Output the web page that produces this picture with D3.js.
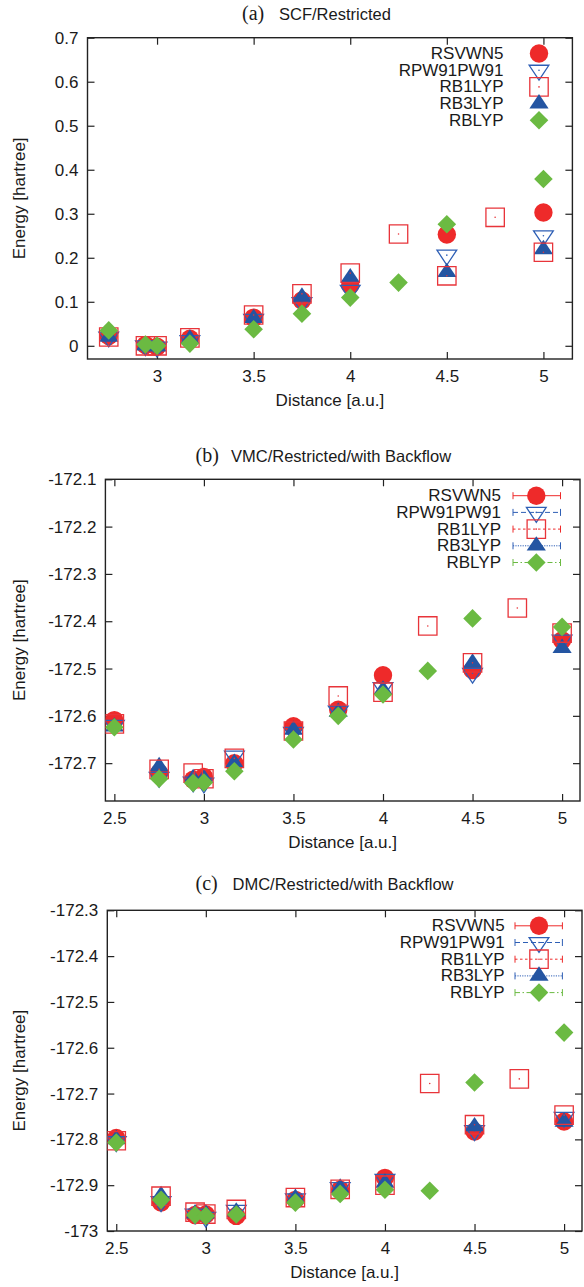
<!DOCTYPE html>
<html><head><meta charset="utf-8">
<script src="https://cdn.jsdelivr.net/npm/d3@7"></script>
<style>body{margin:0;background:#fff} svg{display:block}</style>
</head><body><svg id="c" width="584" height="1287"></svg>
<script>
// ---------------- DATA ----------------
const distances = [2.5, 2.75, 2.94, 3.0, 3.17, 3.5, 3.75, 4.0, 4.25, 4.5, 4.75, 5.0];
const seriesNames = ["RSVWN5", "RPW91PW91", "RB1LYP", "RB3LYP", "RBLYP"];

// (a) SCF/Restricted  [hartree]
const scfRSVWN5    = [null, 0.022, 0.002, -0.002, 0.016, 0.064, 0.103, 0.1375, null, 0.253, null, 0.303];
const scfRPW91PW91 = [null, 0.020, 0.000, -0.003, 0.012, 0.060, 0.098, 0.126, null, 0.206, null, 0.250];
const scfRB1LYP    = [null, 0.020, 0.000, 0.000, 0.018, 0.070, 0.118, 0.165, 0.254, 0.159, 0.292, 0.2125];
const scfRB3LYP    = [null, 0.020, 0.000, -0.002, 0.016, 0.0625, 0.111, 0.155, null, 0.167, null, 0.219];
const scfRBLYP     = [null, 0.035, 0.003, 0.000, 0.005, 0.0375, 0.073, 0.1095, 0.1436, 0.276, null, 0.379];

// (b) VMC/Restricted/with Backflow
const vmcRSVWN5    = [-172.609, -172.721, -172.735, -172.729, -172.700, -172.622, -172.587, -172.514, null, -172.503, null, -172.440];
const vmcRPW91PW91 = [-172.620, -172.730, -172.740, -172.742, -172.685, -172.635, -172.590, -172.540, null, -172.510, null, -172.440];
const vmcRB1LYP    = [-172.617, -172.713, -172.721, -172.733, -172.690, -172.632, -172.558, -172.550, -172.410, -172.488, -172.372, -172.425];
const vmcRB3LYP    = [-172.623, -172.707, -172.732, -172.732, -172.700, -172.630, -172.592, -172.545, null, -172.488, null, -172.457];
const vmcRBLYP     = [-172.624, -172.733, -172.742, -172.741, -172.717, -172.650, -172.600, -172.555, -172.505, -172.394, null, -172.412];

// (c) DMC/Restricted/with Backflow
const dmcRSVWN5    = [-172.797, -172.938, -172.965, -172.964, -172.967, -172.932, -172.910, -172.884, null, -172.783, null, -172.761];
const dmcRPW91PW91 = [-172.805, -172.936, -172.963, -172.970, -172.955, -172.930, -172.905, -172.887, null, -172.781, null, -172.752];
const dmcRB1LYP    = [-172.803, -172.924, -172.959, -172.963, -172.953, -172.927, -172.909, -172.900, -172.678, -172.768, -172.668, -172.747];
const dmcRB3LYP    = [-172.800, -172.922, -172.962, -172.962, -172.958, -172.928, -172.906, -172.895, null, -172.772, null, -172.762];
const dmcRBLYP     = [-172.807, -172.932, -172.965, -172.967, -172.964, -172.938, -172.919, -172.910, -172.912, -172.676, null, -172.567];

const scfXTicks = [3, 3.5, 4, 4.5, 5];
const scfXTickLabels = ["3", "3.5", "4", "4.5", "5"];
const qmcXTicks = [2.5, 3, 3.5, 4, 4.5, 5];
const qmcXTickLabels = ["2.5", "3", "3.5", "4", "4.5", "5"];
const scfYTicks = [0, 0.1, 0.2, 0.3, 0.4, 0.5, 0.6, 0.7];
const scfYTickLabels = ["0", "0.1", "0.2", "0.3", "0.4", "0.5", "0.6", "0.7"];
const vmcYTicks = [-172.7, -172.6, -172.5, -172.4, -172.3, -172.2, -172.1];
const vmcYTickLabels = ["-172.7", "-172.6", "-172.5", "-172.4", "-172.3", "-172.2", "-172.1"];
const dmcYTicks = [-173, -172.9, -172.8, -172.7, -172.6, -172.5, -172.4, -172.3];
const dmcYTickLabels = ["-173", "-172.9", "-172.8", "-172.7", "-172.6", "-172.5", "-172.4", "-172.3"];

const panelLetters = ["(a)", "(b)", "(c)"];
const panelTitles = ["SCF/Restricted", "VMC/Restricted/with Backflow", "DMC/Restricted/with Backflow"];
const xLabel = "Distance [a.u.]";
const yLabel = "Energy [hartree]";

// ---------------- LAYOUT / STYLE ----------------
const RED = "#ee2a2a", RED_S = "#e8343a", BLUE = "#2455a2", BLUE_S = "#2e5fb5", GREEN = "#6bba42";
const FONT = "'Liberation Sans', Arial, Helvetica, sans-serif";
const FS = 17;

const layouts = [
  {left: 87.5, right: 572.4, top: 37.7, bottom: 359, xd: [2.64, 5.15], yd: [-0.03, 0.7],
   titleX: 242, titleSansX: 279, titleY: 13, legText: 503.5, legMark: 539, legY0: 53.5, legDy: 16.7, legLine: null},
  {left: 105.4, right: 580, top: 479.3, bottom: 801, xd: [2.45, 5.1], yd: [-172.78, -172.1],
   titleX: 195.5, titleSansX: 231, titleY: 455, legText: 501, legMark: 536.3, legY0: 495.7, legDy: 16.7, legLine: [513, 560.5]},
  {left: 107.3, right: 582, top: 910.3, bottom: 1231, xd: [2.45, 5.1], yd: [-173, -172.3],
   titleX: 195.5, titleSansX: 232.5, titleY: 883.3, legText: 504.6, legMark: 539, legY0: 925.8, legDy: 16.7, legLine: [515, 562.4]}
];

const panelData = [
  {series: [scfRSVWN5, scfRPW91PW91, scfRB1LYP, scfRB3LYP, scfRBLYP], xt: scfXTicks, xtl: scfXTickLabels, yt: scfYTicks, ytl: scfYTickLabels},
  {series: [vmcRSVWN5, vmcRPW91PW91, vmcRB1LYP, vmcRB3LYP, vmcRBLYP], xt: qmcXTicks, xtl: qmcXTickLabels, yt: vmcYTicks, ytl: vmcYTickLabels},
  {series: [dmcRSVWN5, dmcRPW91PW91, dmcRB1LYP, dmcRB3LYP, dmcRBLYP], xt: qmcXTicks, xtl: qmcXTickLabels, yt: dmcYTicks, ytl: dmcYTickLabels}
];

const markerTypes = ["circle", "down", "square", "up", "diamond"];
const lineStyles = [
  {color: RED, dash: null},
  {color: BLUE_S, dash: "5,3"},
  {color: RED, dash: "2.5,2.5"},
  {color: BLUE_S, dash: "1.2,1.2"},
  {color: GREEN, dash: "5,2.5,1.5,2.5"}
];
const drawOrder = [0, 1, 3, 2, 4];

const svg = d3.select("#c");

function markerPath(type, cx, cy) {
  const p = d3.path();
  if (type === "circle") { p.arc(cx, cy, 9.2, 0, 2 * Math.PI); }
  else if (type === "square") { p.rect(cx - 9.2, cy - 9.2, 18.4, 18.4); }
  else if (type === "diamond") { const s = 9.3; p.moveTo(cx - s, cy); p.lineTo(cx, cy - s); p.lineTo(cx + s, cy); p.lineTo(cx, cy + s); p.closePath(); }
  else if (type === "up") { const u = 7.2; p.moveTo(cx, cy - 4 * u / 3); p.lineTo(cx + 4 * u / 3, cy + 2 * u / 3); p.lineTo(cx - 4 * u / 3, cy + 2 * u / 3); p.closePath(); }
  else if (type === "down") { const u = 7.4; p.moveTo(cx, cy + 4 * u / 3); p.lineTo(cx + 4 * u / 3, cy - 2 * u / 3); p.lineTo(cx - 4 * u / 3, cy - 2 * u / 3); p.closePath(); }
  return p.toString();
}

function drawMarker(g, type, cx, cy) {
  const path = g.append("path").attr("d", markerPath(type, cx, cy));
  if (type === "circle") path.attr("fill", RED);
  else if (type === "up") path.attr("fill", BLUE);
  else if (type === "diamond") path.attr("fill", GREEN);
  else if (type === "square") {
    path.attr("fill", "none").attr("stroke", RED_S).attr("stroke-width", 1.3);
    g.append("circle").attr("cx", cx).attr("cy", cy).attr("r", 0.8).attr("fill", RED_S);
  } else if (type === "down") {
    path.attr("fill", "none").attr("stroke", BLUE_S).attr("stroke-width", 1.3).attr("stroke-linejoin", "miter");
    g.append("circle").attr("cx", cx).attr("cy", cy).attr("r", 0.8).attr("fill", BLUE_S);
  }
}

layouts.forEach((L, pi) => {
  const D = panelData[pi];
  const g = svg.append("g");
  const x = d3.scaleLinear().domain(L.xd).range([L.left, L.right]);
  const y = d3.scaleLinear().domain(L.yd).range([L.bottom, L.top]);

  // ticks (inward, mirrored) via d3 axes
  const tickLen = 7;
  const bottomAx = d3.axisBottom(x).tickValues(D.xt).tickSizeInner(-tickLen).tickSizeOuter(0).tickFormat((d, i) => D.xtl[i]);
  const topAx = d3.axisTop(x).tickValues(D.xt).tickSizeInner(-tickLen).tickSizeOuter(0).tickFormat("");
  const leftAx = d3.axisLeft(y).tickValues(D.yt).tickSizeInner(-tickLen).tickSizeOuter(0).tickFormat((d, i) => D.ytl[i]);
  const rightAx = d3.axisRight(y).tickValues(D.yt).tickSizeInner(-tickLen).tickSizeOuter(0).tickFormat("");

  const styleAxis = (sel) => {
    sel.select(".domain").remove();
    sel.selectAll(".tick line").attr("stroke", "#222").attr("stroke-width", 1.2);
    sel.selectAll(".tick text").attr("fill", "#1a1a1a").style("font-family", FONT).style("font-size", FS + "px");
  };
  g.append("g").attr("transform", `translate(0,${L.bottom})`).call(bottomAx).call(styleAxis)
    .selectAll(".tick text").attr("dy", null).attr("y", 17).attr("dominant-baseline", "central");
  g.append("g").attr("transform", `translate(0,${L.top})`).call(topAx).call(styleAxis);
  g.append("g").attr("transform", `translate(${L.left},0)`).call(leftAx).call(styleAxis)
    .selectAll(".tick text").attr("dy", null).attr("x", -9).attr("dominant-baseline", "central");
  g.append("g").attr("transform", `translate(${L.right},0)`).call(rightAx).call(styleAxis);

  // frame
  g.append("rect").attr("x", L.left).attr("y", L.top).attr("width", L.right - L.left).attr("height", L.bottom - L.top)
    .attr("fill", "none").attr("stroke", "#222").attr("stroke-width", 1.4);

  // title
  g.append("text").attr("x", L.titleX).attr("y", L.titleY).attr("dominant-baseline", "central")
    .style("font-family", "'Liberation Serif', 'Times New Roman', serif").style("font-size", "20px").attr("fill", "#1a1a1a")
    .text(panelLetters[pi]);
  g.append("text").attr("x", L.titleSansX).attr("y", L.titleY + 1).attr("dominant-baseline", "central")
    .style("font-family", FONT).style("font-size", "16.5px").attr("fill", "#1a1a1a")
    .text(panelTitles[pi]);

  // axis labels
  g.append("text").attr("x", (L.left + L.right) / 2).attr("y", L.bottom + 41).attr("text-anchor", "middle")
    .attr("dominant-baseline", "central").style("font-family", FONT).style("font-size", FS + "px").attr("fill", "#1a1a1a").text(xLabel);
  g.append("text").attr("transform", `translate(19,${(L.top + L.bottom) / 2}) rotate(-90)`).attr("text-anchor", "middle")
    .attr("dominant-baseline", "central").style("font-family", FONT).style("font-size", FS + "px").attr("fill", "#1a1a1a").text(yLabel);

  // data points
  const clip = "clip" + pi;
  g.append("clipPath").attr("id", clip).append("rect").attr("x", L.left).attr("y", L.top).attr("width", L.right - L.left).attr("height", L.bottom - L.top);
  const pts = g.append("g").attr("clip-path", `url(#${clip})`);
  drawOrder.forEach(si => {
    const sg = pts.append("g");
    D.series[si].forEach((v, k) => {
      if (v === null) return;
      drawMarker(sg, markerTypes[si], x(distances[k]), y(v));
    });
  });

  // legend
  seriesNames.forEach((name, si) => {
    const ly = L.legY0 + si * L.legDy;
    g.append("text").attr("x", L.legText).attr("y", ly).attr("text-anchor", "end").attr("dominant-baseline", "central")
      .style("font-family", FONT).style("font-size", FS + "px").attr("fill", "#1a1a1a").text(name);
    if (L.legLine) {
      const st = lineStyles[si];
      const ln = g.append("line").attr("x1", L.legLine[0]).attr("x2", L.legLine[1]).attr("y1", ly).attr("y2", ly)
        .attr("stroke", st.color).attr("stroke-width", 1);
      if (st.dash) ln.attr("stroke-dasharray", st.dash);
      [L.legLine[0], L.legLine[1]].forEach(cx => {
        g.append("line").attr("x1", cx).attr("x2", cx).attr("y1", ly - 3.5).attr("y2", ly + 3.5).attr("stroke", st.color).attr("stroke-width", 1);
      });
    }
    drawMarker(g.append("g"), markerTypes[si], L.legMark, ly);
  });
});
</script>
</body></html>
